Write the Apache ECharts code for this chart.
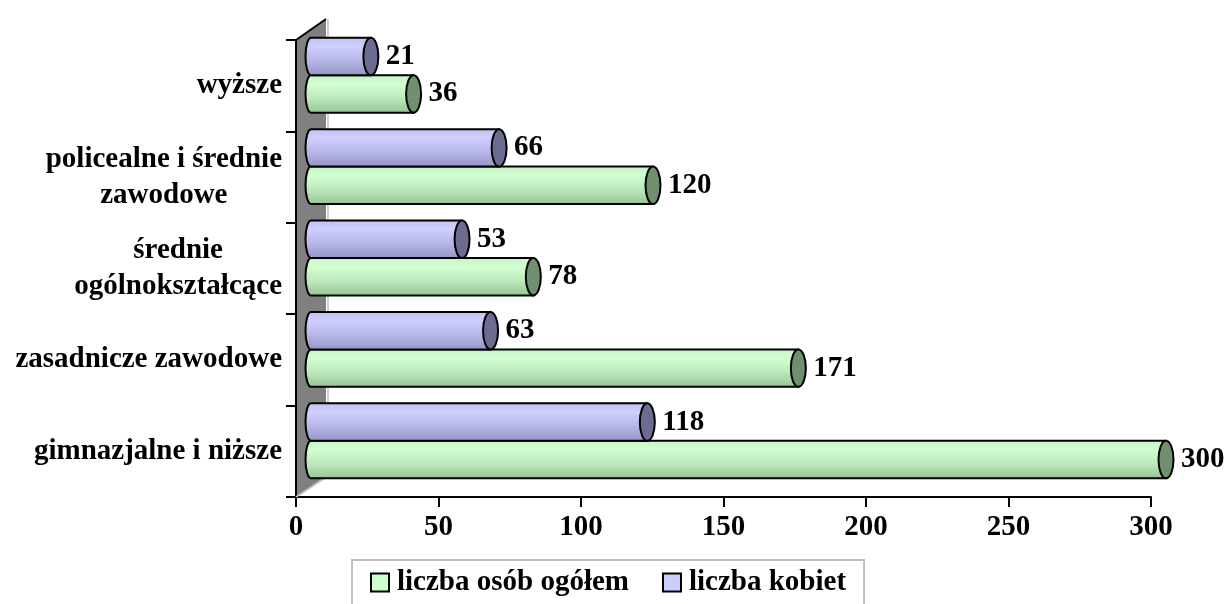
<!DOCTYPE html>
<html>
<head>
<meta charset="utf-8">
<script src="https://cdn.jsdelivr.net/npm/echarts@6/dist/echarts.min.js"></script>
<style>
  html, body { margin: 0; padding: 0; background: #fff; }
  #chart { width: 1232px; height: 604px; }
</style>
</head>
<body>
<div id="chart"></div>
<script>
// kategorie od dołu do góry
const categories = [
  'gimnazjalne i niższe',
  'zasadnicze zawodowe',
  'średnie\nogólnokształcące',
  'policealne i średnie\nzawodowe',
  'wyższe'
];
const totalValues = [300, 171, 78, 120, 36];
const womenValues = [118, 63, 53, 66, 21];
const seriesNames = ['liczba osób ogółem', 'liczba kobiet'];
const xMin = 0;
const xMax = 300;
const xStep = 50;

const FONT = '"Liberation Serif", "Times New Roman", serif';
const FONT_SIZE = 29;
// przesunięcie "głębokości" 3D ściany i słupków
const DEPTH = [30, -21];
const BAR_SHIFT = [15, -10.5];

const chart = echarts.init(document.getElementById('chart'));

/**
 * rysowanie słupka-walca (slot 0 = dolny, 1 = górny)
 */
function cylinder(slot, stops, capColor) {
  return function (params, api) {
    const idx = api.value(0);
    const val = api.value(1);
    const base = api.coord([0, idx]);
    const end = api.coord([val, idx]);
    const band = api.size([0, 1])[1];
    const h = band * 0.41;
    const yMid = base[1] + BAR_SHIFT[1];
    const yTop = slot === 1 ? yMid - h : yMid;
    const yBot = yTop + h;
    const x0 = base[0] + BAR_SHIFT[0];
    const x1 = end[0] + BAR_SHIFT[0];
    const ry = h / 2;
    const rx = 7.5;
    const rxLeft = 5.5;
    const cy = yTop + ry;

    const body = 'M' + x0 + ' ' + yTop + ' L' + x1 + ' ' + yTop +
      ' L' + x1 + ' ' + yBot + ' L' + x0 + ' ' + yBot +
      ' A' + rxLeft + ' ' + ry + ' 0 0 1 ' + x0 + ' ' + yTop + ' Z';
    const cap = 'M' + (x1 - rx) + ' ' + cy +
      ' A' + rx + ' ' + ry + ' 0 1 0 ' + (x1 + rx) + ' ' + cy +
      ' A' + rx + ' ' + ry + ' 0 1 0 ' + (x1 - rx) + ' ' + cy + ' Z';

    return {
      type: 'group',
      children: [
        {
          type: 'path',
          shape: { pathData: body },
          style: {
            fill: { type: 'linear', x: 0, y: 0, x2: 0, y2: 1, colorStops: stops },
            stroke: '#000',
            lineWidth: 2
          }
        },
        {
          type: 'path',
          shape: { pathData: cap },
          style: { fill: capColor, stroke: '#000', lineWidth: 2 }
        },
        {
          type: 'text',
          style: {
            text: String(val),
            x: x1 + 15,
            y: cy,
            verticalAlign: 'middle',
            align: 'left',
            fill: '#000',
            font: 'bold ' + FONT_SIZE + 'px ' + FONT
          }
        }
      ]
    };
  };
}

const greenStops = [
  { offset: 0, color: '#c6f4c6' },
  { offset: 0.25, color: '#d2ffd2' },
  { offset: 0.6, color: '#bdeabd' },
  { offset: 1, color: '#93c293' }
];
const purpleStops = [
  { offset: 0, color: '#c2c2f2' },
  { offset: 0.25, color: '#cfcfff' },
  { offset: 0.6, color: '#b8b8e8' },
  { offset: 1, color: '#9494c4' }
];

const option = {
  animation: false,
  backgroundColor: '#fff',
  grid: {
    left: 296,
    right: 81,
    top: 40,
    bottom: 107
  },
  legend: {
    left: 352,
    top: 560,
    padding: [8, 18, 20, 18],
    borderColor: '#c0c0c0',
    borderWidth: 2,
    itemWidth: 18,
    itemHeight: 18,
    itemGap: 33,
    icon: 'rect',
    textStyle: {
      color: '#000',
      fontFamily: FONT,
      fontWeight: 'bold',
      fontSize: FONT_SIZE,
      padding: [0, 0, 0, 3]
    },
    data: [
      { name: seriesNames[0], itemStyle: { color: '#ccffcc', borderColor: '#000', borderWidth: 2 } },
      { name: seriesNames[1], itemStyle: { color: '#ccccff', borderColor: '#000', borderWidth: 2 } }
    ]
  },
  xAxis: {
    type: 'value',
    min: xMin,
    max: xMax,
    interval: xStep,
    splitLine: { show: false },
    axisLine: { show: true, lineStyle: { color: '#000', width: 2 } },
    axisTick: { show: true, length: 10, lineStyle: { color: '#000', width: 2 } },
    axisLabel: {
      margin: 16,
      color: '#000',
      fontFamily: FONT,
      fontWeight: 'bold',
      fontSize: FONT_SIZE
    }
  },
  yAxis: {
    type: 'category',
    data: categories,
    axisLine: { show: true, lineStyle: { color: '#000', width: 2 } },
    axisTick: { show: true, length: 10, lineStyle: { color: '#000', width: 2 } },
    axisLabel: {
      margin: 14,
      align: 'right',
      formatter: function (value) {
        return value.split('\n').map(s => '{c|' + s + '}').join('\n');
      },
      rich: {
        c: {
          align: 'center',
          color: '#000',
          fontFamily: FONT,
          fontWeight: 'bold',
          fontSize: FONT_SIZE,
          lineHeight: 36
        }
      }
    }
  },
  series: [
    {
      name: seriesNames[0],
      type: 'custom',
      z: 3,
      itemStyle: { color: '#ccffcc' },
      encode: { x: 1, y: 0 },
      renderItem: cylinder(0, greenStops, '#6f8f6f'),
      data: totalValues.map((v, i) => [i, v])
    },
    {
      name: seriesNames[1],
      type: 'custom',
      z: 3,
      itemStyle: { color: '#ccccff' },
      encode: { x: 1, y: 0 },
      renderItem: cylinder(1, purpleStops, '#6c6c90'),
      data: womenValues.map((v, i) => [i, v])
    }
  ]
};

chart.setOption(option);

// ściana 3D po lewej stronie (z pozycji osi)
const L = chart.convertToPixel({ xAxisIndex: 0 }, 0);
const yFirst = chart.convertToPixel({ yAxisIndex: 0 }, 0);
const yLast = chart.convertToPixel({ yAxisIndex: 0 }, categories.length - 1);
const bandH = (yFirst - yLast) / (categories.length - 1);
const T = yLast - bandH / 2;
const B = yFirst + bandH / 2;

chart.setOption({
  graphic: [
    {
      type: 'polygon',
      z: 0,
      shape: { points: [[L, T], [L + DEPTH[0], T + DEPTH[1]], [L + DEPTH[0], B + DEPTH[1]], [L, B]] },
      style: { fill: '#808080' }
    },
    {
      type: 'line',
      z: 1,
      shape: { x1: L + DEPTH[0] + 2, y1: T + DEPTH[1], x2: L + DEPTH[0] + 2, y2: B + DEPTH[1] },
      style: { stroke: '#c0c0c0', lineWidth: 1.5 }
    },
    {
      type: 'line',
      z: 1,
      shape: { x1: L, y1: B, x2: L + DEPTH[0] + 2, y2: B + DEPTH[1] },
      style: { stroke: '#c0c0c0', lineWidth: 1.5 }
    },
    {
      type: 'line',
      z: 1,
      shape: { x1: L, y1: T, x2: L + DEPTH[0], y2: T + DEPTH[1] },
      style: { stroke: '#000', lineWidth: 2 }
    }
  ]
});

window.addEventListener('resize', function () {
  chart.resize();
});
</script>
</body>
</html>
